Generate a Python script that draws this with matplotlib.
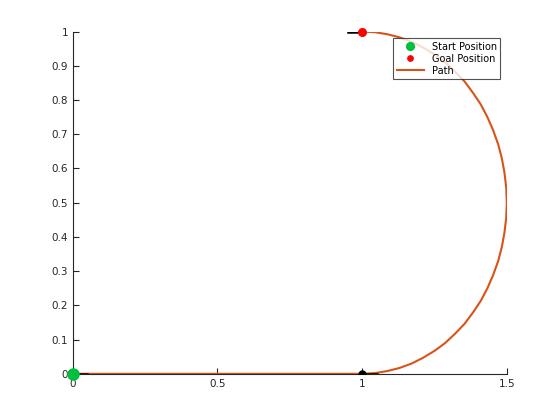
import matplotlib.pyplot as plt
from matplotlib.ticker import FuncFormatter


# path: straight leg then a half turn (read every ~5 degrees of the turn)
path_x = [0.0, 1.000, 1.044, 1.087, 1.129, 1.171, 1.211, 1.250, 1.287, 1.321, 1.354,
          1.383, 1.410, 1.433, 1.453, 1.470, 1.483, 1.492, 1.498, 1.500,
          1.498, 1.492, 1.483, 1.470, 1.453, 1.433, 1.410, 1.383, 1.354,
          1.321, 1.287, 1.250, 1.211, 1.171, 1.129, 1.087, 1.044, 1.000]
path_y = [0.0, 0.000, 0.002, 0.008, 0.017, 0.030, 0.047, 0.067, 0.090, 0.117, 0.146,
          0.179, 0.213, 0.250, 0.289, 0.329, 0.371, 0.413, 0.456, 0.500,
          0.544, 0.587, 0.629, 0.671, 0.711, 0.750, 0.787, 0.821, 0.854,
          0.883, 0.910, 0.933, 0.953, 0.970, 0.983, 0.992, 0.998, 1.000]

start = (0.0, 0.0)
goal = (1.0, 1.0)
waypoint = (1.0, 0.0)

# heading lines at each pose
heading_x0 = [0.0, 1.0, 1.0]
heading_x1 = [0.05, 1.05, 0.95]
heading_y = [0.0, 0.0, 1.0]

path_color = '#D95319'
text_color = '#262626'

plt.rcParams.update({
    'font.family': 'DejaVu Sans',
    'font.size': 7.5,
    'xtick.direction': 'in',
    'ytick.direction': 'in',
    'xtick.color': text_color,
    'ytick.color': text_color,
})

fig = plt.figure(figsize=(5.6, 4.2), dpi=100)
ax = fig.add_axes([0.13, 0.11, 0.775, 0.815])

p_line, = ax.plot(path_x, path_y, color=path_color, linewidth=1.5, label='Path', zorder=2)

for x0, x1, y in zip(heading_x0, heading_x1, heading_y):
    ax.plot([x0, x1], [y, y], color='black', linewidth=1.8, zorder=3)

ax.plot(waypoint[0], waypoint[1], 'o', color='black', markersize=5, zorder=4)
s_mark, = ax.plot(start[0], start[1], 'o', color='#00C040', markersize=8,
                  label='Start Position', zorder=5, clip_on=False)
g_mark, = ax.plot(goal[0], goal[1], 'o', color='red', markersize=5.5,
                  label='Goal Position', zorder=5, clip_on=False)

ax.set_xlim(0, 1.5)
ax.set_ylim(0, 1)
ax.set_xticks([0, 0.5, 1, 1.5])
ax.set_yticks([i / 10 for i in range(11)])
ax.xaxis.set_major_formatter(FuncFormatter(lambda v, p: '%g' % v))
ax.yaxis.set_major_formatter(FuncFormatter(lambda v, p: '%g' % v))
ax.tick_params(length=4, width=0.8, labelcolor=text_color)
ax.spines['top'].set_visible(False)
ax.spines['right'].set_visible(False)
for s in ['left', 'bottom']:
    ax.spines[s].set_color(text_color)
    ax.spines[s].set_linewidth(0.8)

leg = ax.legend(handles=[s_mark, g_mark, p_line], loc='upper right',
                bbox_to_anchor=(0.985, 0.98), fontsize=7, frameon=True, fancybox=False,
                edgecolor=text_color, borderpad=0.35, handlelength=2.8, labelspacing=0.2,
                handletextpad=0.8, borderaxespad=0, markerscale=0.7)
leg.get_frame().set_linewidth(0.8)

plt.savefig('out.png', dpi=100)
